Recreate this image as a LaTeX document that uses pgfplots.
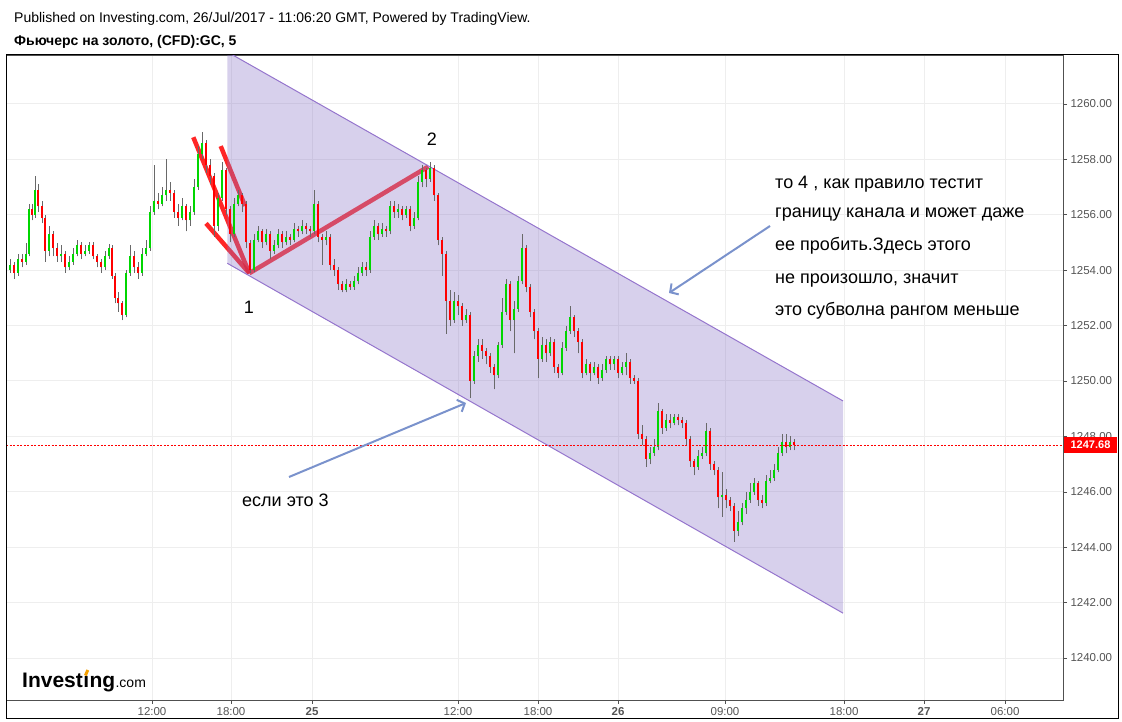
\documentclass[border=0pt]{standalone}
\usepackage{pgfplots}
\pgfplotsset{compat=1.18}
\usepackage{pgfplotstable}
\usepackage{fontspec}
\setmainfont{Liberation Sans}
\usetikzlibrary{arrows.meta}
\definecolor{upg}{RGB}{0,214,0}
\definecolor{dnr}{RGB}{255,0,0}
\definecolor{wick}{RGB}{105,105,105}
\definecolor{chfill}{RGB}{140,120,200}
\definecolor{chline}{RGB}{149,117,205}
\definecolor{arrowc}{RGB}{122,146,204}
\definecolor{gridc}{RGB}{238,238,238}
\definecolor{lbl}{RGB}{85,85,85}
\definecolor{axc}{RGB}{80,80,80}
\definecolor{logoorange}{RGB}{245,160,0}
\pgfplotstableread{
x o h l c
10 1254.0 1254.4 1253.9 1254.2
14 1254.2 1254.3 1253.7 1253.9
18 1253.9 1254.6 1253.8 1254.4
22 1254.4 1254.6 1254.1 1254.3
26 1254.3 1255.0 1254.2 1254.6
29 1254.6 1256.4 1254.5 1256.2
32 1256.2 1256.4 1255.8 1256.0
35 1256.0 1257.4 1255.9 1256.9
38 1256.9 1257.1 1256.1 1256.3
42 1256.3 1256.5 1255.7 1255.9
45 1255.9 1256.0 1254.3 1254.7
49 1254.7 1255.6 1254.5 1255.3
53 1255.3 1255.4 1254.5 1254.8
57 1254.8 1255.0 1254.3 1254.5
61 1254.5 1254.9 1254.3 1254.6
65 1254.6 1254.7 1253.9 1254.1
69 1254.1 1254.5 1254.0 1254.3
73 1254.3 1254.8 1254.2 1254.6
77 1254.6 1255.1 1254.5 1254.9
81 1254.9 1255.0 1254.4 1254.6
85 1254.6 1254.9 1254.5 1254.7
89 1254.7 1255.0 1254.6 1254.9
93 1254.9 1255.0 1254.4 1254.5
97 1254.5 1254.6 1254.1 1254.3
101 1254.3 1254.4 1253.9 1254.1
105 1254.1 1254.7 1254.0 1254.5
109 1254.5 1254.95 1254.4 1254.8
112 1254.8 1254.9 1253.7 1253.8
115 1253.8 1253.9 1252.8 1253.0
118 1253.0 1253.2 1252.5 1252.8
122 1252.8 1252.9 1252.2 1252.4
126 1252.4 1254.0 1252.3 1253.9
130 1253.9 1254.9 1253.8 1254.5
134 1254.5 1254.7 1253.9 1254.1
138 1254.1 1254.3 1253.7 1253.9
142 1253.9 1254.8 1253.8 1254.6
146 1254.6 1255.1 1254.5 1254.8
150 1254.8 1256.3 1254.7 1256.1
154 1256.1 1257.8 1256.0 1256.5
158 1256.5 1256.8 1256.2 1256.4
162 1256.4 1257.0 1256.3 1256.7
166 1256.7 1258.0 1256.5 1256.9
170 1256.9 1257.2 1256.5 1256.8
174 1256.8 1256.9 1255.9 1256.1
178 1256.1 1256.4 1255.6 1255.9
182 1255.9 1256.6 1255.8 1256.3
186 1256.3 1256.4 1255.4 1255.8
190 1255.8 1256.3 1255.6 1256.1
194 1256.1 1257.3 1256.0 1257.0
198 1257.0 1258.5 1256.9 1258.2
202 1258.2 1259.0 1258.0 1258.6
206 1258.6 1258.7 1257.5 1257.8
210 1257.8 1258.0 1257.1 1257.4
214 1257.4 1257.5 1255.2 1255.6
218 1255.6 1256.8 1255.4 1256.6
222 1256.6 1257.9 1256.5 1257.6
226 1257.6 1257.7 1256.0 1256.2
230 1256.2 1256.3 1255.0 1255.3
234 1255.3 1256.6 1255.2 1256.4
238 1256.4 1256.9 1256.3 1256.7
242 1256.7 1256.8 1256.1 1256.4
246 1256.4 1256.5 1254.8 1255.0
250 1255.0 1255.1 1253.9 1254.0
254 1254.0 1255.3 1253.95 1255.1
258 1255.1 1255.6 1255.0 1255.4
262 1255.4 1255.5 1254.8 1255.0
266 1255.0 1255.5 1254.9 1255.3
270 1255.3 1255.4 1254.4 1254.7
274 1254.7 1255.1 1254.6 1254.9
278 1254.9 1255.5 1254.8 1255.3
282 1255.3 1255.4 1254.8 1255.0
286 1255.0 1255.4 1254.9 1255.2
290 1255.2 1255.3 1254.9 1255.1
294 1255.1 1255.7 1255.0 1255.5
298 1255.5 1255.6 1255.2 1255.4
302 1255.4 1255.8 1255.3 1255.6
306 1255.6 1255.7 1255.3 1255.5
310 1255.5 1255.6 1255.2 1255.4
314 1255.4 1256.9 1255.3 1256.4
318 1256.4 1256.5 1255.0 1255.2
322 1255.2 1255.3 1254.2 1255.1
326 1255.1 1255.4 1254.9 1255.2
330 1255.2 1255.3 1254.0 1254.2
334 1254.2 1254.4 1253.8 1254.0
338 1254.0 1254.1 1253.3 1253.5
342 1253.5 1253.6 1253.2 1253.3
346 1253.3 1253.7 1253.2 1253.5
350 1253.5 1253.6 1253.3 1253.4
354 1253.4 1253.8 1253.3 1253.6
358 1253.6 1254.1 1253.5 1253.9
362 1253.9 1254.3 1253.8 1254.1
366 1254.1 1254.3 1253.8 1254.0
370 1254.0 1255.4 1253.9 1255.2
374 1255.2 1255.8 1255.1 1255.6
378 1255.6 1255.7 1255.1 1255.3
382 1255.3 1255.7 1255.2 1255.5
386 1255.5 1255.6 1255.2 1255.4
390 1255.4 1256.5 1255.3 1256.3
394 1256.3 1256.5 1255.9 1256.1
398 1256.1 1256.4 1255.9 1256.2
402 1256.2 1256.3 1255.8 1256.0
406 1256.0 1256.3 1255.9 1256.2
410 1256.2 1256.3 1255.4 1255.6
414 1255.6 1256.1 1255.5 1255.9
418 1255.9 1257.4 1255.8 1257.2
422 1257.2 1257.8 1257.0 1257.6
426 1257.6 1257.7 1257.0 1257.3
430 1257.3 1257.9 1257.2 1257.7
434 1257.7 1257.8 1256.5 1256.7
438 1256.7 1256.8 1254.9 1255.1
442 1255.1 1255.2 1253.8 1254.6
446 1254.6 1254.7 1251.7 1252.9
450 1252.9 1253.3 1252.0 1252.2
454 1252.2 1253.2 1252.1 1252.9
458 1252.9 1253.1 1252.4 1252.7
462 1252.7 1252.8 1252.0 1252.2
466 1252.2 1252.6 1252.1 1252.4
470 1252.4 1252.5 1249.4 1250.0
474 1250.0 1251.1 1249.9 1250.9
478 1250.9 1251.5 1250.7 1251.3
482 1251.3 1251.5 1250.8 1251.1
486 1251.1 1251.2 1250.6 1250.9
490 1250.9 1251.0 1250.3 1250.5
494 1250.5 1250.6 1249.7 1250.2
498 1250.2 1251.4 1250.1 1251.3
502 1251.3 1253.0 1251.2 1252.5
506 1252.5 1253.7 1252.4 1253.5
510 1253.5 1253.6 1251.8 1252.2
514 1252.2 1252.9 1251.0 1252.6
518 1252.6 1253.8 1252.5 1253.6
522 1253.6 1255.3 1253.5 1254.8
526 1254.8 1254.9 1253.2 1253.4
530 1253.4 1253.5 1252.3 1252.5
534 1252.5 1252.6 1251.5 1251.8
538 1251.8 1251.9 1250.1 1250.8
542 1250.8 1251.6 1250.7 1251.3
546 1251.3 1251.5 1250.7 1251.0
550 1251.0 1251.6 1250.9 1251.4
554 1251.4 1251.5 1250.3 1250.5
558 1250.5 1250.6 1250.1 1250.3
562 1250.3 1251.4 1250.2 1251.2
566 1251.2 1252.0 1251.1 1251.8
570 1251.8 1252.7 1251.7 1252.3
574 1252.3 1252.4 1251.6 1251.8
578 1251.8 1251.9 1251.0 1251.4
582 1251.4 1251.5 1250.1 1250.3
586 1250.3 1250.8 1250.2 1250.6
590 1250.6 1250.7 1250.0 1250.3
594 1250.3 1250.7 1250.2 1250.5
598 1250.5 1250.6 1249.9 1250.1
602 1250.1 1250.6 1250.0 1250.4
606 1250.4 1250.9 1250.3 1250.8
610 1250.8 1250.9 1250.4 1250.6
614 1250.6 1250.9 1250.4 1250.8
618 1250.8 1250.9 1250.1 1250.3
622 1250.3 1250.7 1250.2 1250.5
626 1250.5 1251.0 1250.2 1250.7
630 1250.7 1250.8 1249.9 1250.1
634 1250.1 1250.2 1249.9 1250.0
638 1250.0 1250.1 1247.9 1248.1
642 1248.1 1248.4 1247.7 1247.9
646 1247.9 1248.0 1246.9 1247.2
650 1247.2 1247.6 1247.0 1247.4
654 1247.4 1247.9 1247.3 1247.6
658 1247.6 1249.2 1247.5 1248.9
662 1248.9 1249.0 1248.1 1248.3
666 1248.3 1248.8 1248.2 1248.6
670 1248.6 1248.8 1248.3 1248.5
674 1248.5 1248.8 1248.4 1248.7
678 1248.7 1248.8 1248.4 1248.6
682 1248.6 1248.7 1248.3 1248.5
686 1248.5 1248.6 1247.7 1247.9
690 1247.9 1248.0 1246.9 1247.1
694 1247.1 1247.2 1246.6 1246.9
698 1246.9 1247.5 1246.8 1247.3
702 1247.3 1247.6 1247.2 1247.4
706 1247.4 1248.5 1247.3 1248.2
710 1248.2 1248.3 1246.8 1247.0
714 1247.0 1247.1 1246.6 1246.8
718 1246.8 1246.9 1245.4 1245.8
722 1245.8 1246.7 1245.1 1245.9
726 1245.9 1246.1 1245.4 1245.7
730 1245.7 1245.8 1245.3 1245.5
734 1245.5 1245.6 1244.2 1244.6
738 1244.6 1245.3 1244.4 1244.9
742 1244.9 1245.6 1244.8 1245.4
746 1245.4 1246.0 1245.2 1245.7
750 1245.7 1246.3 1245.6 1246.0
754 1246.0 1246.5 1245.9 1246.3
758 1246.3 1246.4 1245.5 1245.7
762 1245.7 1245.9 1245.4 1245.6
766 1245.6 1246.6 1245.5 1246.4
770 1246.4 1246.8 1246.3 1246.5
774 1246.5 1247.0 1246.4 1246.8
778 1246.8 1247.6 1246.7 1247.4
782 1247.4 1248.1 1247.3 1247.8
786 1247.8 1248.1 1247.4 1247.6
790 1247.6 1248.0 1247.5 1247.8
794 1247.8 1247.9 1247.5 1247.68
}\candles
\pgfplotsset{candlebar/.style={only marks, mark=*, mark size=0pt,
  mark options={draw=none, fill=none},
  error bars/.cd, y dir=plus, y explicit, error mark=none}}
\begin{document}
\begin{tikzpicture}[x=1pt,y=1pt]
\useasboundingbox (-6,-22) rectangle (1116,700);
\begin{axis}[
  at={(0pt,0pt)}, anchor=south west,
  scale only axis, width=1057pt, height=645pt,
  xmin=6, xmax=1063, ymin=1238.484, ymax=1261.769,
  axis line style={draw=axc, line width=0.8pt},
  xtick={152,231,312,458,538,618,725,844,924,1005},
  xticklabels={12:00,18:00,\textbf{25},12:00,18:00,\textbf{26},09:00,18:00,\textbf{27},06:00},
  ytick={1240,1242,...,1260},
  xtick pos=bottom, ytick pos=right, yticklabel pos=right,
  tick align=outside, major tick length=4pt,
  tick style={draw=axc, line width=0.6pt},
  grid=major, major grid style={draw=gridc, line width=1pt},
  /pgf/number format/assume math mode=true,
  yticklabel style={font=\fontsize{11.5}{13}\selectfont, text=lbl, /pgf/number format/.cd, fixed, fixed zerofill, precision=2, 1000 sep={}},
  xticklabel style={font=\fontsize{11.5}{13}\selectfont, text=lbl},
]
% red wave lines (drawn under the channel)
\addplot[dnr, draw opacity=0.85, line width=4.5pt] coordinates {(193.3,1258.80) (249.3,1253.89)};
\addplot[dnr, draw opacity=0.85, line width=4.5pt] coordinates {(220.7,1258.48) (245,1256.32)};
\addplot[dnr, draw opacity=0.85, line width=4.5pt] coordinates {(206,1255.69) (249.3,1253.89)};
\addplot[dnr, draw opacity=0.8, line width=4.5pt] coordinates {(249.3,1253.89) (428.3,1257.74)};
% channel
\addplot[draw=none, fill=chfill, fill opacity=0.35] coordinates {(227.3,1261.88) (843,1249.28) (843,1241.62) (227.3,1254.25)} -- cycle;
\addplot[chline, line width=1pt] coordinates {(227.3,1261.88) (843,1249.28)};
\addplot[chline, line width=1pt] coordinates {(227.3,1254.25) (843,1241.62)};
% candles: wicks
\addplot[candlebar, error bar style={line width=0.9pt, color=wick}]
  table[x=x, y=l, y error expr=\thisrow{h}-\thisrow{l}] {\candles};
% up bodies
\addplot[candlebar, error bar style={line width=2.1pt, color=upg}]
  table[x=x, y=o, y error expr={max(\thisrow{c}-\thisrow{o},0)}] {\candles};
% down bodies
\addplot[candlebar, error bar style={line width=2.1pt, color=dnr}]
  table[x=x, y=c, y error expr={max(\thisrow{o}-\thisrow{c},0)}] {\candles};
% last price line
\addplot[dnr, line width=0.7pt, dash pattern=on 2pt off 1.5pt] coordinates {(6,1247.68) (1063,1247.68)};
\end{axis}
% outer frame
\draw[black, line width=1pt] (0,-19) rectangle (1112,645);
% header
\node[anchor=west, inner sep=0, font=\fontsize{14}{16}\selectfont] at (8,681) {Published on Investing.com, 26/Jul/2017 - 11:06:20 GMT, Powered by TradingView.};
\node[anchor=west, inner sep=0, font=\bfseries\fontsize{14}{16}\selectfont] at (8,658) {Фьючерс на золото, (CFD):GC, 5};
% price label
\fill[dnr] (1058,247) rectangle (1111,263);
\node[text=white, inner sep=0, font=\bfseries\fontsize{11}{13}\selectfont] at (1084.5,255) {1247.68};
% annotations
\begin{scope}[font=\fontsize{18}{20}\selectfont]
\node at (243,393) {1};
\node at (426,561) {2};
\node[anchor=west, inner sep=0] at (236,200) {если это 3};
\node[anchor=west, inner sep=0] at (769,516) {то 4 , как правило тестит};
\node[anchor=west, inner sep=0] at (769,485) {границу канала и может даже};
\node[anchor=west, inner sep=0] at (769,454) {ее пробить.Здесь этого};
\node[anchor=west, inner sep=0] at (769,419) {не произошло, значит};
\node[anchor=west, inner sep=0] at (769,389) {это субволна рангом меньше};
\end{scope}
\draw[arrowc, line width=2pt, -{Straight Barb[length=6pt,width=13pt]}] (283,223) -- (460,297);
\draw[arrowc, line width=2pt, -{Straight Barb[length=6pt,width=13pt]}] (764,474) -- (663,407);
% logo
\begin{scope}[font=\bfseries\fontsize{21}{21}\selectfont]
\node[name=inv1, anchor=base west, inner sep=0] at (16,12) {Invest};
\node[name=inv2, anchor=base west, inner sep=0] at (inv1.base east) {ı};
\node[name=inv3, anchor=base west, inner sep=0] at (inv2.base east) {ng};
\end{scope}
\node[anchor=base west, inner sep=0, font=\fontsize{14}{14}\selectfont] at (inv3.base east) {.com};
\draw[logoorange, line width=3pt] ([shift={(-0.8,12.5)}]inv2.base) -- ([shift={(1.6,18)}]inv2.base);
\end{tikzpicture}
\end{document}
